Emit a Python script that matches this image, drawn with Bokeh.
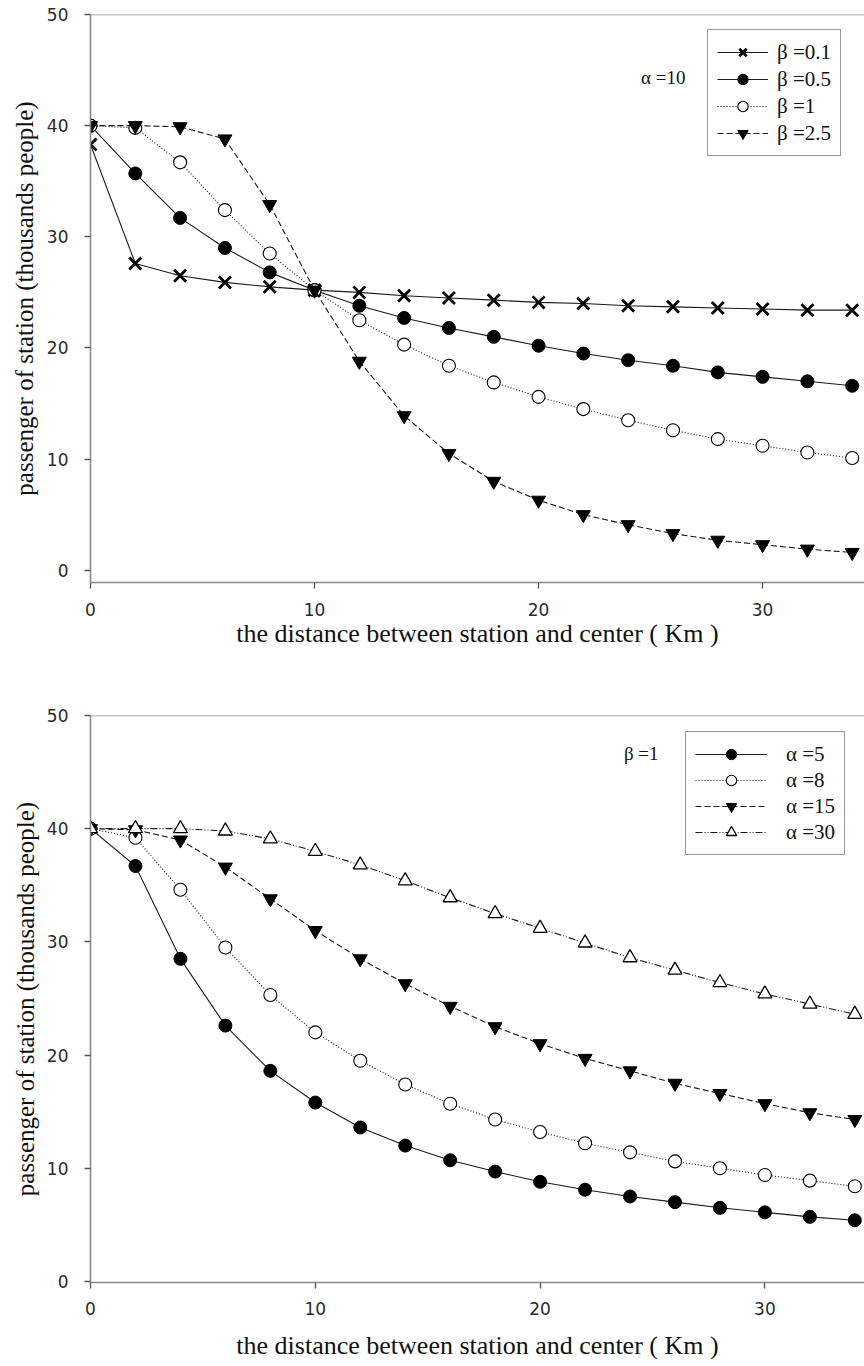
from bokeh.plotting import figure
from bokeh.models import Legend, LegendItem, Span, Label, FixedTicker, Range1d
from bokeh.layouts import column
from bokeh.embed import file_html
from bokeh.resources import INLINE

# ---------------- data ----------------
distance = [0, 2, 4, 6, 8, 10, 12, 14, 16, 18, 20, 22, 24, 26, 28, 30, 32, 34]

beta_labels = ["β =0.1", "β =0.5", "β =1", "β =2.5"]
beta_0_1 = [38.3, 27.6, 26.5, 25.9, 25.5, 25.2, 25.0, 24.7, 24.5, 24.3, 24.1, 24.0, 23.8, 23.7, 23.6, 23.5, 23.4, 23.4]
beta_0_5 = [40.0, 35.7, 31.7, 29.0, 26.8, 25.2, 23.8, 22.7, 21.8, 21.0, 20.2, 19.5, 18.9, 18.4, 17.8, 17.4, 17.0, 16.6]
beta_1 = [40.0, 39.8, 36.7, 32.4, 28.5, 25.2, 22.5, 20.3, 18.4, 16.9, 15.6, 14.5, 13.5, 12.6, 11.8, 11.2, 10.6, 10.1]
beta_2_5 = [40.0, 40.0, 39.9, 38.8, 32.9, 25.2, 18.8, 13.9, 10.5, 8.0, 6.3, 5.0, 4.1, 3.3, 2.7, 2.3, 1.9, 1.6]

alpha_labels = ["α =5", "α =8", "α =15", "α =30"]
alpha_5 = [40.0, 36.7, 28.5, 22.6, 18.6, 15.8, 13.6, 12.0, 10.7, 9.7, 8.8, 8.1, 7.5, 7.0, 6.5, 6.1, 5.7, 5.4]
alpha_8 = [40.0, 39.2, 34.6, 29.5, 25.3, 22.0, 19.5, 17.4, 15.7, 14.3, 13.2, 12.2, 11.4, 10.6, 10.0, 9.4, 8.9, 8.4]
alpha_15 = [40.0, 39.9, 39.0, 36.6, 33.8, 31.0, 28.5, 26.3, 24.3, 22.5, 21.0, 19.7, 18.6, 17.5, 16.6, 15.7, 14.9, 14.3]
alpha_30 = [40.0, 40.0, 40.0, 39.8, 39.1, 38.0, 36.8, 35.4, 33.9, 32.5, 31.2, 29.9, 28.6, 27.5, 26.4, 25.4, 24.5, 23.6]

x_ticks = [0, 10, 20, 30]
y_ticks = [0, 10, 20, 30, 40, 50]

x_title = "the distance between station and center ( Km )"
y_title = "passenger of station (thousands people)"

SERIF = "Liberation Serif"
SANS = "DejaVu Sans"
AXIS_COLOR = "#8a8a8a"
INK = "#1a1a1a"


def style_axes(p, x_label_standoff, x_title_standoff, y_title_standoff):
    for ax in (p.xaxis[0], p.yaxis[0]):
        ax.axis_line_color = AXIS_COLOR
        ax.axis_line_width = 1.6
        ax.major_tick_line_color = "#555555"
        ax.major_tick_line_width = 1.3
        ax.major_tick_in = 0
        ax.major_tick_out = 6
        ax.minor_tick_line_color = None
        ax.major_label_text_font = SANS
        ax.major_label_text_font_size = "17px"
        ax.major_label_text_color = "#2a2a2a"
        ax.axis_label_text_font = SERIF
        ax.axis_label_text_font_style = "normal"
        ax.axis_label_text_color = "#111111"
    p.xaxis.axis_label_text_font_size = "26px"
    p.yaxis.axis_label_text_font_size = "25px"
    p.xaxis.ticker = FixedTicker(ticks=x_ticks)
    p.yaxis.ticker = FixedTicker(ticks=y_ticks)
    p.xaxis.major_label_standoff = x_label_standoff
    p.xaxis.axis_label_standoff = x_title_standoff
    p.yaxis.major_label_standoff = 16
    p.yaxis.axis_label_standoff = y_title_standoff
    p.xaxis.axis_label = x_title
    p.yaxis.axis_label = y_title
    p.xgrid.grid_line_color = None
    p.ygrid.grid_line_color = None
    p.add_layout(Span(location=50, dimension="width", line_color=AXIS_COLOR, line_width=1.6))


def add_series(p, ys, marker, fill, dash, size, lw_marker):
    lr = p.line(distance, ys, line_color=INK, line_width=1.1, line_dash=dash)
    sr = p.scatter(distance, ys, marker=marker, size=size, fill_color=fill,
                   line_color="#000000", line_width=lw_marker)
    return [lr, sr]


def make_legend(items, x, y, glyph_w, standoff, spacing):
    lg = Legend(items=items, location=(x, y), orientation="vertical")
    lg.border_line_color = "#333333"
    lg.border_line_width = 1.2
    lg.background_fill_color = "white"
    lg.background_fill_alpha = 1.0
    lg.label_text_font = SERIF
    lg.label_text_font_size = "21px"
    lg.label_text_color = "#111111"
    lg.glyph_width = glyph_w
    lg.glyph_height = 26
    lg.label_height = 26
    lg.label_standoff = standoff
    lg.spacing = spacing
    lg.padding = 9
    lg.margin = 0
    return lg


# ---------------- top panel ----------------
p1 = figure(width=864, height=650, output_backend="svg", toolbar_location=None,
            x_range=Range1d(0, 34.55), y_range=Range1d(-1.1, 50.0),
            min_border_left=90, min_border_right=0, min_border_top=14, min_border_bottom=67)
p1.outline_line_color = None
style_axes(p1, x_label_standoff=14, x_title_standoff=0, y_title_standoff=6)

top_series = [
    (beta_0_1, "x", "#000000", "solid", 17, 2.8),
    (beta_0_5, "circle", "#000000", "solid", 13, 1.0),
    (beta_1, "circle", "#ffffff", "1 2", 13, 1.1),
    (beta_2_5, "inverted_triangle", "#000000", "6 3", 14, 1.0),
]
items1 = []
for (ys, mk, fc, dash, sz, lw), lab in zip(top_series, beta_labels):
    rs = add_series(p1, ys, mk, fc, dash, sz, lw)
    items1.append(LegendItem(label=lab, renderers=rs))
p1.add_layout(make_legend(items1, 617, 426, 51, 9, 1))
p1.add_layout(Label(x=26.56, y=44.3, text="α =10", text_font=SERIF, text_font_size="19px",
                    text_align="right", text_baseline="middle", text_color="#111111"))

# ---------------- bottom panel ----------------
p2 = figure(width=864, height=716, output_backend="svg", toolbar_location=None,
            x_range=Range1d(0, 34.43), y_range=Range1d(-0.1, 50.0),
            min_border_left=87, min_border_right=0, min_border_top=65, min_border_bottom=84)
p2.outline_line_color = None
style_axes(p2, x_label_standoff=13, x_title_standoff=13, y_title_standoff=5)

bottom_series = [
    (alpha_5, "circle", "#000000", "solid", 13, 1.0),
    (alpha_8, "circle", "#ffffff", "1 2", 13, 1.1),
    (alpha_15, "inverted_triangle", "#000000", "6 3", 14, 1.0),
    (alpha_30, "triangle", "#ffffff", "7 2 1 2 1 2", 14, 1.3),
]
items2 = []
for (ys, mk, fc, dash, sz, lw), lab in zip(bottom_series, alpha_labels):
    rs = add_series(p2, ys, mk, fc, dash, sz, lw)
    items2.append(LegendItem(label=lab, renderers=rs))
p2.add_layout(make_legend(items2, 595, 427, 72, 19, 0))
p2.add_layout(Label(x=24.5, y=46.6, text="β =1", text_font=SERIF, text_font_size="19px",
                    text_align="center", text_baseline="middle", text_color="#111111"))

layout = column(p1, p2, spacing=0)
open("out.html", "w").write(file_html(layout, INLINE))
